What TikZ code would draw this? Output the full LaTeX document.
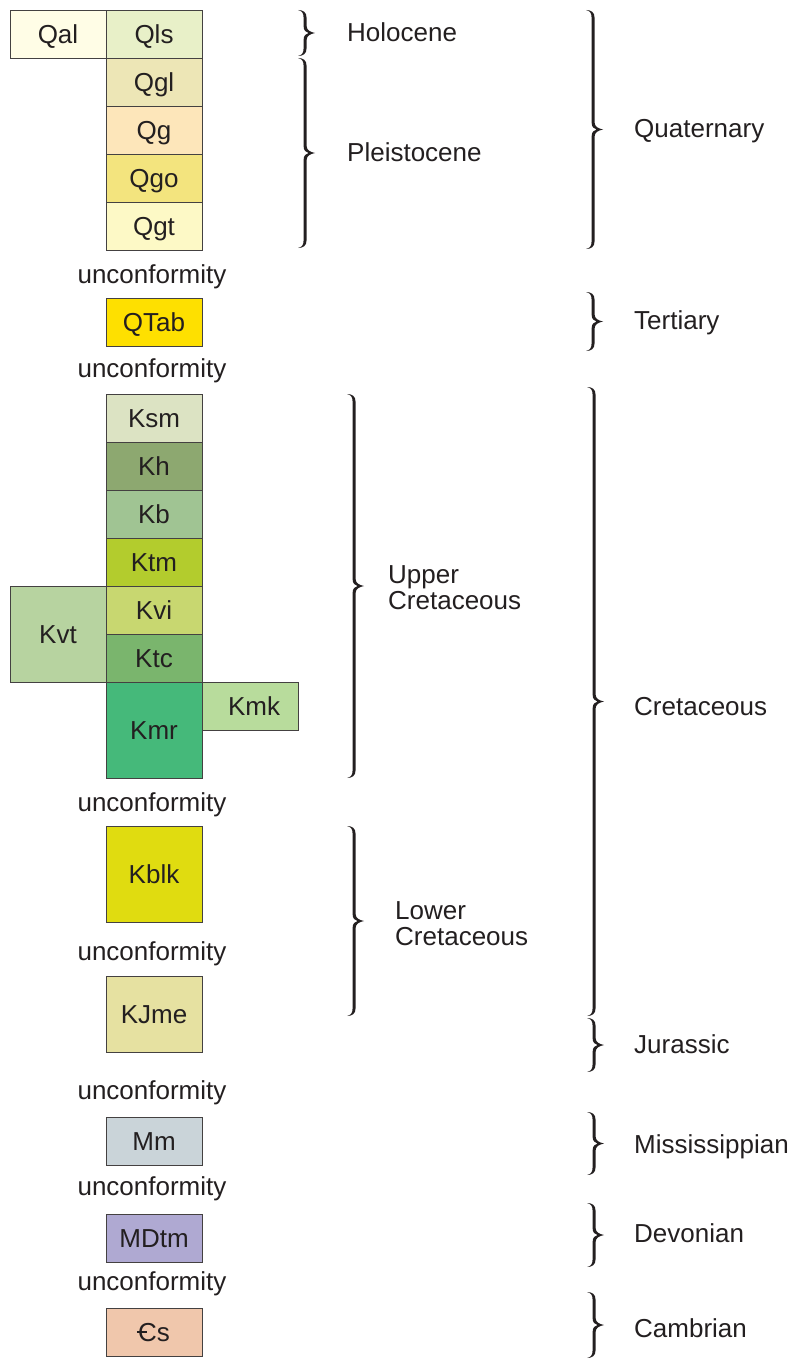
\documentclass[tikz,border=0pt]{standalone}
\usepackage{fontspec}
\setmainfont{Liberation Sans}

% unit colours
\definecolor{ink}{HTML}{231F20}
\definecolor{cQal}{HTML}{FFFDE6}
\definecolor{cQls}{HTML}{E8F0C8}
\definecolor{cQgl}{HTML}{EDE6B6}
\definecolor{cQg}{HTML}{FDE6BA}
\definecolor{cQgo}{HTML}{F3E47E}
\definecolor{cQgt}{HTML}{FDF9C6}
\definecolor{cQTab}{HTML}{FEE000}
\definecolor{cKsm}{HTML}{DCE3C3}
\definecolor{cKh}{HTML}{8DA870}
\definecolor{cKb}{HTML}{A0C493}
\definecolor{cKtm}{HTML}{B3CC2D}
\definecolor{cKvi}{HTML}{C8D770}
\definecolor{cKtc}{HTML}{7AB56D}
\definecolor{cKvt}{HTML}{B7D3A0}
\definecolor{cKmk}{HTML}{B8DC9C}
\definecolor{cKmr}{HTML}{45B97A}
\definecolor{cKblk}{HTML}{E0DC10}
\definecolor{cKJme}{HTML}{E6E1A1}
\definecolor{cMm}{HTML}{CAD4D9}
\definecolor{cMDtm}{HTML}{AFA9D2}
\definecolor{cCs}{HTML}{F0C7AC}

% Cambrian C with a bar
\newcommand{\cambrianC}{\makebox[0pt][l]{\hspace{-0.05em}\rule[0.32em]{0.4em}{0.08em}}C}

% curly brace: left tips at x=#1, from y=#2 down to y=#3, point to the right
\newcommand{\curlybrace}[3]{%
 \begin{scope}[shift={(#1,#2)}]
  \pgfmathsetmacro{\brLen}{#3-#2}
  \pgfmathsetmacro{\brMid}{\brLen/2}
  \fill[ink] (0,0) .. controls (5,0) and (8.6,2) .. (8.6,8)
    -- (8.6,\brMid-7) .. controls (8.6,\brMid-3) and (12,\brMid-1) .. (17,\brMid)
    .. controls (12,\brMid+1) and (8.6,\brMid+3) .. (8.6,\brMid+7)
    -- (8.6,\brLen-8) .. controls (8.6,\brLen-2) and (5,\brLen) .. (0,\brLen)
    .. controls (4,\brLen-0.8) and (5.6,\brLen-3) .. (5.6,\brLen-8)
    -- (5.6,\brMid+7) .. controls (5.6,\brMid+2.5) and (8,\brMid+0.6) .. (10.5,\brMid)
    .. controls (8,\brMid-0.6) and (5.6,\brMid-2.5) .. (5.6,\brMid-7)
    -- (5.6,8) .. controls (5.6,3) and (4,0.8) .. (0,0) -- cycle;
 \end{scope}}

\begin{document}
\begin{tikzpicture}[x=1pt,y=-1pt,
  font=\fontsize{26pt}{26pt}\selectfont,
  every node/.style={text=ink, inner sep=0pt, text height=18.6pt, text depth=0pt},
  unitbox/.style={draw=ink!85, line width=0.9pt, minimum width=96pt, minimum height=48pt},
  tall/.style={minimum height=96pt},
  gap/.style={},
  agelabel/.style={anchor=west},
  twoline/.style={anchor=west, align=left, text height=, text depth=}
]
\useasboundingbox (0,0) rectangle (796,1359);

% ---- Quaternary units
\node[unitbox, fill=cQal] (qal) at (58,34) {Qal};
\node[unitbox, fill=cQls] (qls) at (154,34) {Qls};
\node[unitbox, fill=cQgl] (qgl) at (154,82) {Qgl};
\node[unitbox, fill=cQg]  (qg)  at (154,130) {Qg};
\node[unitbox, fill=cQgo] (qgo) at (154,178) {Qgo};
\node[unitbox, fill=cQgt] (qgt) at (154,226) {Qgt};

\node[gap] (u1) at (152,274) {unconformity};
\node[unitbox, fill=cQTab] (qtab) at (154,322) {QTab};
\node[gap] (u2) at (152,368) {unconformity};

% ---- Upper Cretaceous units
\node[unitbox, fill=cKsm] (ksm) at (154,418) {Ksm};
\node[unitbox, fill=cKh]  (kh)  at (154,466) {Kh};
\node[unitbox, fill=cKb]  (kb)  at (154,514) {Kb};
\node[unitbox, fill=cKtm] (ktm) at (154,562) {Ktm};
\node[unitbox, fill=cKvi] (kvi) at (154,610) {Kvi};
\node[unitbox, fill=cKtc] (ktc) at (154,658) {Ktc};
\node[unitbox, tall, fill=cKvt] (kvt) at (58,634) {Kvt};
\node[unitbox, tall, fill=cKmr] (kmr) at (154,730) {Kmr};
\node[unitbox, fill=cKmk] (kmk) at (250,706) {\hspace{8pt}Kmk};

\node[gap] (u3) at (152,802) {unconformity};

% ---- Lower Cretaceous and older units
\node[unitbox, tall, fill=cKblk] (kblk) at (154,874) {Kblk};
\node[gap] (u4) at (152,951) {unconformity};
\node[unitbox, minimum height=76pt, fill=cKJme] (kjme) at (154,1014) {KJme};
\node[gap] (u5) at (152,1090) {unconformity};
\node[unitbox, fill=cMm] (mm) at (154,1141) {Mm};
\node[gap] (u6) at (152,1186) {unconformity};
\node[unitbox, fill=cMDtm] (mdtm) at (154,1238) {MDtm};
\node[gap] (u7) at (152,1281) {unconformity};
\node[unitbox, fill=cCs] (cs) at (154,1332) {\cambrianC s};

% ---- epoch braces
\curlybrace{298}{10}{56}
\curlybrace{298}{58}{248}
\curlybrace{347}{394}{778}
\curlybrace{347}{826}{1016}

\node[agelabel] (holo) at (347,32) {Holocene};
\node[agelabel] (pleis) at (347,152) {Pleistocene};
\node[twoline] (ucret) at (388,588) {Upper\\Cretaceous};
\node[twoline] (lcret) at (395,923.5) {Lower\\Cretaceous};

% ---- period braces
\curlybrace{586}{10}{249}
\curlybrace{586}{292}{351}
\curlybrace{587}{387}{1016}
\curlybrace{587}{1018}{1072}
\curlybrace{587}{1112}{1175}
\curlybrace{587}{1203}{1267}
\curlybrace{587}{1292}{1358}

\node[agelabel] (quat) at (634,128) {Quaternary};
\node[agelabel] (tert) at (634,320) {Tertiary};
\node[agelabel] (cret) at (634,706) {Cretaceous};
\node[agelabel] (jur) at (634,1044) {Jurassic};
\node[agelabel] (miss) at (634,1144) {Mississippian};
\node[agelabel] (dev) at (634,1233) {Devonian};
\node[agelabel] (camb) at (634,1328) {Cambrian};
\end{tikzpicture}
\end{document}
